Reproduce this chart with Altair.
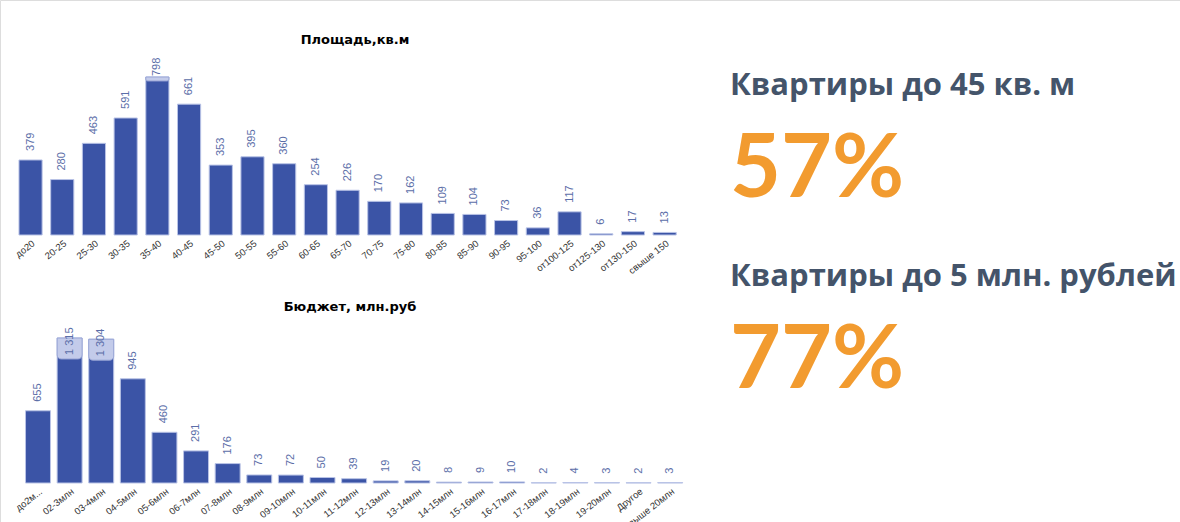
import altair as alt
import pandas as pd

area_cats = ["до20", "20-25", "25-30", "30-35", "35-40", "40-45", "45-50", "50-55", "55-60",
             "60-65", "65-70", "70-75", "75-80", "80-85", "85-90", "90-95", "95-100",
             "от100-125", "от125-130", "от130-150", "свыше 150"]
area_vals = [379, 280, 463, 591, 798, 661, 353, 395, 360, 254, 226, 170, 162, 109, 104, 73, 36,
             117, 6, 17, 13]

budget_cats = ["до2млн", "02-3млн", "03-4млн", "04-5млн", "05-6млн", "06-7млн", "07-8млн",
               "08-9млн", "09-10млн", "10-11млн", "11-12млн", "12-13млн", "13-14млн", "14-15млн",
               "15-16млн", "16-17млн", "17-18млн", "18-19млн", "19-20млн", "Другое", "свыше 20млн"]
budget_vals = [655, 1315, 1304, 945, 460, 291, 176, 73, 72, 50, 39, 19, 20, 8, 9, 10, 2, 4, 3, 2, 3]

title_area = "Площадь,кв.м"
title_budget = "Бюджет, млн.руб"
head1 = "Квартиры до 45 кв. м"
big1 = "57%"
head2 = "Квартиры до 5 млн. рублей"
big2 = "77%"

BAR = "#3b54a6"
EDGE = "#b9c3e6"
LAV = "#c3cbea"
LBL = "#5b6ea8"
W, H = 1180, 522


def panel(cats, vals, xrange, yrange, pad, offset, hl_units, inner_dx, label_expr=None):
    df = pd.DataFrame({"cat": cats, "v": vals})
    base = alt.Chart(df).transform_calculate(
        lab="replace(format(datum.v, ','), ',', ' ')"
    ).transform_joinaggregate(mx="max(v)")
    axis_kw = dict(orient="bottom", offset=offset, title=None, ticks=False, domain=False,
                   labelAngle=-38, labelFontSize=9.5, labelColor="#333333", labelPadding=3,
                   labelFont="Liberation Sans", grid=False)
    if label_expr:
        axis_kw["labelExpr"] = label_expr
    x = alt.X("cat:N", sort=cats, axis=alt.Axis(**axis_kw),
              scale=alt.Scale(range=xrange, paddingInner=pad, paddingOuter=pad / 2))
    y = alt.Y("v:Q", axis=None, scale=alt.Scale(domain=[0, max(vals)], range=yrange, nice=False))
    bars = base.mark_bar(color=BAR, stroke=EDGE, strokeWidth=1).encode(x=x, y=y)
    hl = base.transform_filter("datum.v >= 0.95 * datum.mx").transform_calculate(
        v2=f"datum.v - {hl_units}"
    ).mark_bar(color=LAV, stroke="#9aa6d6", strokeWidth=1, cornerRadiusBottomLeft=4,
               cornerRadiusBottomRight=4).encode(x=x, y=y, y2="v2:Q")
    txt_kw = dict(angle=270, align="left", baseline="middle", fontSize=11, color=LBL,
                  font="Liberation Sans")
    labels = base.transform_filter("datum.v < 0.95 * datum.mx").mark_text(dx=9, **txt_kw).encode(
        x=x, y=y, text="lab:N")
    top_labels = base.transform_filter("datum.v >= 0.95 * datum.mx").mark_text(
        dx=inner_dx, **txt_kw).encode(x=x, y=y, text="lab:N")
    return alt.layer(bars, hl, labels, top_labels)


top = panel(area_cats, area_vals, [14.7, 680.5], [235, 77], 0.27, 235 - H, 20, 1)
bottom = panel(budget_cats, budget_vals, [22.2, 686], [483, 338], 0.21, 483 - H, 190, -17,
               label_expr="datum.label == 'до2млн' ? 'до2м...' : datum.label")


def note(text, x, y, size, color, font="Open Sans", weight="bold", align="left"):
    d = pd.DataFrame({"t": [text]})
    return alt.Chart(d).mark_text(align=align, baseline="alphabetic", fontSize=size,
                                  fontWeight=weight, font=font, color=color).encode(
        x=alt.value(x), y=alt.value(y), text="t:N")


notes = alt.layer(
    note(title_area, 355, 44, 13, "#000000", font="DejaVu Sans", align="center"),
    note(title_budget, 350, 311, 13, "#000000", font="DejaVu Sans", align="center"),
    note(head1, 730, 95, 31, "#44546a"),
    note(big1, 730, 197, 88, "#f29b2f", font="Lato"),
    note(head2, 730, 286, 31, "#44546a"),
    note(big2, 730, 388, 88, "#f29b2f", font="Lato"),
)

chart = alt.layer(top, bottom, notes).resolve_scale(
    x="independent", y="independent"
).properties(
    width=W, height=H, autosize=alt.AutoSizeParams(type="none"), padding=0
).configure_view(stroke=None).configure(background="white")

chart.save("out.html", embed_options={"renderer": "svg", "actions": False})
